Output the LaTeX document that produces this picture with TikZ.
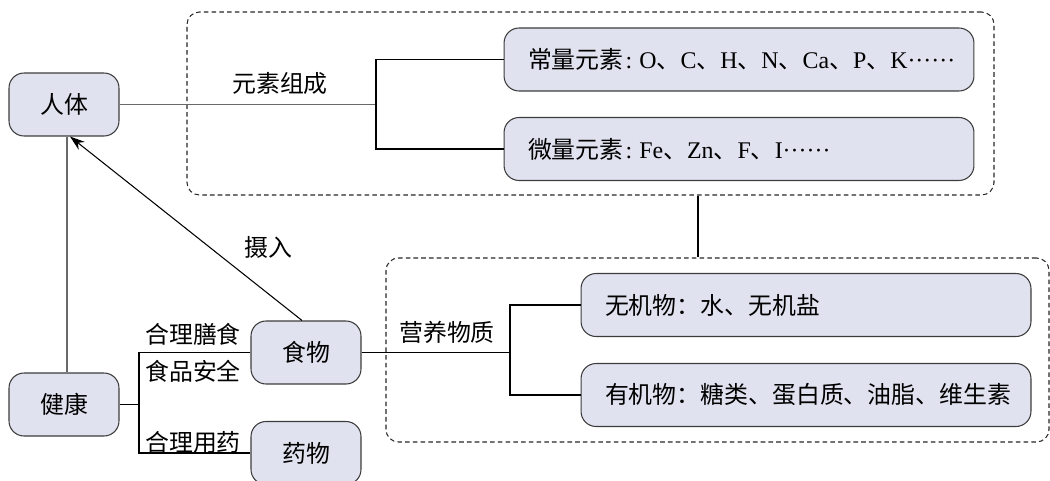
\documentclass[tikz,border=0pt]{standalone}
\usepackage{fontspec}
\setmainfont{Liberation Serif}
\newfontfamily\cjk{Noto Sans CJK SC}
\usepackage{tikz}
\usetikzlibrary{arrows.meta, positioning, fit}
\definecolor{boxfill}{RGB}{225,226,239}
\definecolor{boxline}{RGB}{60,60,60}
\definecolor{linkgray}{RGB}{105,105,105}
\newcommand{\dun}{{\cjk 、}}
\newcommand{\etcdots}{······}
\newcommand{\colonsp}{\hspace{0.08em}:\hspace{0.3em}}

\begin{document}
\begin{tikzpicture}[x=0.02cm, y=-0.02cm,
  box/.style={draw=boxline, fill=boxfill, rounded corners=0.3cm, line width=0.6pt,
    minimum width=2.2cm, minimum height=1.26cm, font=\cjk\fontsize{13.6}{16}\selectfont},
  listbox/.style={box, text width=#1, inner xsep=0.48cm, align=left},
  mixbox/.style={listbox=#1, font=\rmfamily\fontsize{13.6}{16}\selectfont},
  frame/.style={draw=black!85, dash pattern={on 2.6pt off 1.8pt}, rounded corners=0.25cm,
    inner sep=0pt, line width=0.6pt},
  label/.style={font=\cjk\fontsize{13.6}{16}\selectfont},
  link/.style={draw=linkgray, line width=1pt},
  bracket/.style={draw=black, line width=0.6pt},
  arrow/.style={-{Stealth[length=0.3cm, width=0.2cm]}, draw=black, line width=0.6pt}]
  \useasboundingbox (0,0) rectangle (1050,480);
  % dashed frames
  \node[frame, fit={(187,12) (994,195)}] (topframe) {};
  \node[frame, fit={(386,258) (1049,442)}] (botframe) {};
  \coordinate (linkx) at (698,0);
  % main boxes
  \node[box] (body) at (64,104.5) {人体};
  \node[box] (health) at (64,404.5) {健康};
  \node[box] (food) at (306,352.5) {食物};
  \node[box] (drug) at (306,453) {药物};
  % element boxes
  \node[mixbox=8.44cm] (major) at (739,59.5)
    {\mbox{{\cjk 常量元素}\colonsp O\dun C\dun H\dun N\dun Ca\dun P\dun K\etcdots}};
  \node[mixbox=8.44cm] (trace) at (739,149)
    {\mbox{{\cjk 微量元素}\colonsp Fe\dun Zn\dun F\dun I\etcdots}};
  % nutrient boxes
  \node[listbox=8.04cm] (inorg) at (806,305) {\mbox{无机物：水、无机盐}};
  \node[listbox=8.04cm] (org) at (806,395) {\mbox{有机物：糖类、蛋白质、油脂、维生素}};
  % forks
  \coordinate (bodyfork) at (376,104.5);
  \coordinate (foodfork) at (510,352.5);
  \coordinate (healthfork) at (139,404.5);
  % connectors
  \draw[link] (body.east) -- (bodyfork);
  \draw[bracket] (major.west) -| (bodyfork) |- (trace.west);
  \draw[bracket] (food.east) -- (foodfork);
  \draw[bracket] (inorg.west) -| (foodfork) |- (org.west);
  \draw[bracket] (health.east) -- (healthfork);
  \draw[bracket] (food.west) -| (healthfork) |- (drug.west);
  \draw[link] ([xshift=0.06cm]health.north) -- ([xshift=0.06cm]body.south);
  \draw[arrow] ([xshift=-0.08cm]food.north) -- ([xshift=0.12cm]body.south);
  \draw[bracket] (topframe.south -| linkx) -- (botframe.north -| linkx);
  % labels
  \node[label] (lblelem) at (280,83) {元素组成};
  \node[label] (lblnutr) at (447,332) {营养物质};
  \node[label] (lbltake) at (268,247) {摄入};
  \node[label] (lbldiet) at (193,334) {合理膳食};
  \node[label] (lblsafe) at (193,371) {食品安全};
  \node[label] (lblmed) at (193,442) {合理用药};
\end{tikzpicture}
\end{document}
